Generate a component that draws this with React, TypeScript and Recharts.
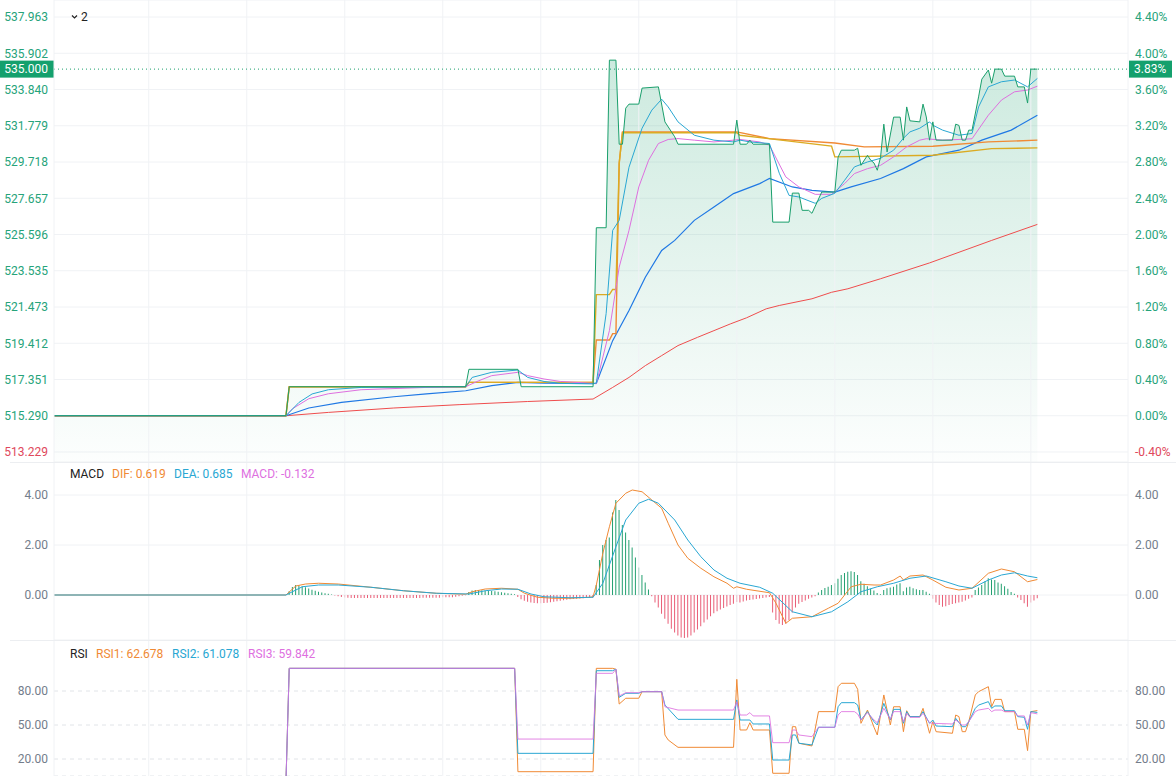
import React from "react";
import {
  ComposedChart,
  Line,
  Area,
  Bar,
  Cell,
  XAxis,
  YAxis,
  ReferenceLine,
  CartesianGrid,
} from "recharts";

// ---- axes / scales ----
const BASE_PRICE = 515.29;
const LAST_PRICE = 535.0;
const LAST_PCT = "3.83%";
const LAST_T = 301;
const X_MAX = 328.74;

const priceTicks = [
  513.229, 515.29, 517.351, 519.412, 521.473, 523.535, 525.596, 527.657, 529.718, 531.779,
  533.84, 535.902, 537.963,
];
const priceDomain: [number, number] = [512.66, 538.93];
const macdTicks = [0, 2, 4];
const macdDomain: [number, number] = [-1.8, 5.32];
const rsiTicks = [20, 50, 80];
const rsiDomain: [number, number] = [5, 125];
const timeGrid = [29, 59, 89, 119, 149, 179, 209, 239, 269, 299];

// ---- price pane: [bar index, price] ----
const closePts: [number, number][] = [
  [0, 515.29], [71, 515.29], [72, 516.94], [126, 516.94], [127, 517.93], [142, 517.93],
  [143, 516.94], [165, 516.94], [166, 525.98], [169, 525.98], [170, 535.51], [172, 535.51],
  [173, 530.73], [174, 530.73], [175, 532.78], [176, 533.01], [179, 533.01], [180, 533.92],
  [185, 533.99], [187, 532.0], [190, 531.15], [191, 530.73], [208, 530.73], [209, 532.1],
  [210, 530.73], [212, 530.73], [213, 530.96], [214, 530.73], [219, 530.73], [220, 526.3],
  [225, 526.3], [226, 527.95], [228, 527.95], [229, 526.97], [231, 526.97], [232, 526.8],
  [235, 528.01], [239, 528.01], [240, 529.99], [241, 530.39], [245, 530.39], [246, 530.5],
  [247, 529.53], [249, 530.1], [250, 529.82], [251, 529.66], [252, 529.25], [253, 529.99],
  [254, 531.87], [255, 530.29], [257, 532.27], [259, 532.27], [260, 530.96], [261, 532.85],
  [262, 532.06], [265, 532.0], [266, 533.01], [267, 532.28], [268, 530.96], [269, 532.0],
  [270, 530.96], [275, 530.96], [276, 531.87], [277, 531.8], [278, 530.96], [279, 530.96],
  [280, 531.53], [281, 531.53], [283, 533.42], [284, 534.43], [286, 534.95], [287, 534.2],
  [288, 535.0], [290, 535.0], [291, 534.6], [294, 534.6], [295, 533.99], [297, 533.99],
  [298, 533.07], [299, 535.0], [301, 535.0],
];
const maCyanPts: [number, number][] = [
  [0, 515.29], [71, 515.29], [75, 516.05], [79, 516.53], [84, 516.77], [94, 516.9],
  [126, 516.94], [128, 517.47], [134, 517.76], [142, 517.89], [145, 517.47], [150, 517.24],
  [155, 517.13], [165, 517.1], [166, 517.15], [169, 521.1], [171, 525.83], [173, 526.4],
  [176, 529.42], [180, 531.64], [183, 532.67], [186, 533.29], [188, 532.85], [191, 532.0],
  [196, 531.24], [202, 530.96], [208, 530.86], [210, 530.96], [213, 530.86], [219, 530.77],
  [222, 529.08], [225, 527.82], [228, 527.73], [233, 527.37], [235, 527.65], [239, 527.94],
  [242, 528.68], [245, 529.44], [249, 529.72], [253, 529.93], [257, 530.39], [260, 531.07],
  [262, 531.43], [265, 531.64], [268, 532.0], [269, 531.81], [272, 531.53], [277, 531.24],
  [281, 531.34], [283, 532.85], [286, 533.99], [290, 534.28], [294, 534.38], [298, 533.99],
  [301, 534.47],
];
const maPinkPts: [number, number][] = [
  [0, 515.29], [71, 515.29], [73, 515.69], [78, 516.26], [84, 516.54], [94, 516.77],
  [114, 516.9], [126, 516.94], [130, 517.28], [134, 517.57], [142, 517.76], [145, 517.57],
  [150, 517.38], [155, 517.24], [165, 517.13], [166, 517.11], [170, 520.13], [173, 523.74],
  [176, 525.83], [179, 528.3], [182, 529.82], [185, 530.77], [188, 531.0], [191, 531.05],
  [196, 530.96], [202, 530.86], [208, 530.96], [210, 531.0], [216, 530.86], [219, 530.67],
  [224, 528.87], [228, 528.3], [233, 527.88], [238, 527.88], [242, 528.49], [245, 529.06],
  [249, 529.34], [253, 529.53], [257, 530.01], [261, 530.58], [265, 530.96], [267, 531.04],
  [272, 530.96], [277, 531.0], [281, 531.04], [286, 532.38], [290, 533.24], [294, 533.71],
  [298, 533.81], [301, 534.03],
];
const maBluePts: [number, number][] = [
  [0, 515.29], [71, 515.29], [78, 515.73], [88, 516.05], [104, 516.37], [114, 516.53],
  [126, 516.71], [134, 517.0], [142, 517.19], [150, 517.15], [165, 517.13], [166, 517.13],
  [171, 519.56], [176, 521.27], [181, 523.17], [186, 524.69], [190, 525.26], [196, 526.4],
  [202, 527.16], [208, 527.92], [216, 528.49], [219, 528.78], [226, 528.3], [232, 528.11],
  [239, 528.01], [244, 528.3], [253, 528.78], [260, 529.34], [267, 530.01], [277, 530.39],
  [284, 530.96], [293, 531.53], [301, 532.38],
];
const maRedPts: [number, number][] = [
  [0, 515.29], [71, 515.29], [84, 515.48], [104, 515.73], [124, 515.92], [145, 516.1],
  [165, 516.24], [171, 516.9], [176, 517.47], [181, 518.14], [186, 518.71], [191, 519.28],
  [197, 519.75], [202, 520.13], [207, 520.51], [212, 520.86], [218, 521.37], [222, 521.56],
  [232, 521.94], [238, 522.31], [243, 522.51], [253, 523.08], [268, 523.98], [287, 525.26],
  [301, 526.17],
];
const avgOrangePts: [number, number][] = [
  [0, 515.29], [71, 515.29], [72, 516.94], [126, 516.94], [127, 517.19], [165, 517.19],
  [166, 519.6], [170, 519.6], [171, 519.96], [172, 519.96], [173, 529.65], [174, 531.43],
  [209, 531.43], [219, 531.05], [239, 530.8], [248, 530.58], [269, 530.61], [286, 530.86],
  [301, 530.96],
];
const avgGoldPts: [number, number][] = [
  [0, 515.29], [71, 515.29], [72, 516.94], [126, 516.94], [127, 517.19], [165, 517.19],
  [166, 522.18], [170, 522.18], [171, 522.47], [172, 522.47], [173, 529.65], [174, 531.38],
  [209, 531.38], [210, 531.24], [238, 530.62], [239, 530.01], [269, 530.1], [287, 530.48],
  [301, 530.52],
];

// ---- MACD pane ----
const difPts: [number, number][] = [
  [0, 0], [71, 0], [74, 0.36], [77, 0.44], [81, 0.47], [87, 0.44], [97, 0.31], [107, 0.17],
  [117, 0.07], [126, 0.03], [128, 0.13], [132, 0.24], [137, 0.27], [142, 0.23], [144, 0.07],
  [148, -0.09], [153, -0.13], [158, -0.13], [164, -0.09], [165, -0.07], [166, 0.4],
  [168, 1.67], [170, 2.73], [172, 3.67], [175, 4.07], [177, 4.2], [180, 4.13], [183, 3.8],
  [186, 3.47], [188, 2.87], [191, 2.0], [194, 1.47], [198, 1.07], [202, 0.73], [206, 0.47],
  [208, 0.27], [209, 0.33], [212, 0.23], [219, 0.09], [221, -0.33], [224, -1.13],
  [226, -0.93], [232, -0.87], [237, -0.53], [240, -0.33], [244, 0.33], [247, 0.43],
  [251, 0.4], [253, 0.4], [257, 0.6], [259, 0.76], [260, 0.6], [262, 0.76], [266, 0.8],
  [269, 0.6], [273, 0.31], [277, 0.2], [281, 0.27], [286, 0.87], [290, 1.04], [294, 0.93],
  [298, 0.53], [301, 0.62],
];
const deaPts: [number, number][] = [
  [0, 0], [71, 0], [76, 0.33], [81, 0.4], [87, 0.4], [97, 0.31], [107, 0.17], [117, 0.07],
  [127, 0.04], [132, 0.17], [137, 0.24], [142, 0.23], [146, 0.04], [150, -0.07],
  [158, -0.11], [165, -0.09], [168, 0.47], [172, 1.93], [175, 3.0], [179, 3.67], [182, 3.83],
  [185, 3.67], [190, 3.0], [194, 2.2], [198, 1.53], [202, 1.0], [206, 0.67], [210, 0.47],
  [216, 0.31], [220, 0.07], [226, -0.67], [232, -0.87], [238, -0.67], [243, -0.27],
  [247, 0.13], [252, 0.33], [257, 0.47], [262, 0.67], [267, 0.76], [273, 0.53], [277, 0.36],
  [281, 0.27], [286, 0.6], [290, 0.8], [294, 0.89], [298, 0.76], [301, 0.69],
];
const histStart = 72;
const histVals = [
  0.15, 0.32, 0.4, 0.38, 0.35, 0.31, 0.26, 0.21, 0.17, 0.13, 0.1, 0.07, 0.05, 0.02,
  -0.02, -0.05, -0.08, -0.1, -0.11, -0.12, -0.12, -0.12, -0.12, -0.12, -0.12, -0.12, -0.12,
  -0.12, -0.12, -0.12, -0.12, -0.12, -0.12, -0.12, -0.12, -0.12, -0.12, -0.12, -0.12, -0.12,
  -0.12, -0.11, -0.11, -0.11, -0.11, -0.11, -0.11, -0.09, -0.09, -0.09, -0.09, -0.07, -0.05,
  -0.03, -0.01,
  0.12, 0.18, 0.2, 0.2, 0.19, 0.18, 0.17, 0.16, 0.15, 0.13, 0.11, 0.09, 0.07, 0.05, 0.03,
  -0.08, -0.17, -0.23, -0.27, -0.3, -0.32, -0.33, -0.33, -0.32, -0.31, -0.29, -0.27, -0.25,
  -0.23, -0.21, -0.19, -0.17, -0.16, -0.15, -0.14, -0.13, -0.12, -0.11, -0.1,
  0.4, 1.4, 2.0, 2.2, 2.3, 3.3, 3.8, 3.4, 2.8, 2.5, 2.2, 1.9, 1.5, 1.1, 0.8, 0.5, 0.22,
  -0.05, -0.3, -0.5, -0.75, -0.95, -1.15, -1.35, -1.5, -1.62, -1.7, -1.72, -1.7, -1.62, -1.5,
  -1.38, -1.25, -1.1, -0.98, -0.85, -0.73, -0.65, -0.58, -0.52, -0.46, -0.4, -0.35, -0.28,
  -0.3, -0.26, -0.22, -0.2, -0.18, -0.16, -0.14, -0.12, -0.1, -0.08,
  -0.7, -1.0, -1.15, -1.2, -1.15, -1.0, -0.7, -0.5, -0.35, -0.28, -0.22, -0.15, -0.1, -0.05,
  0.1, 0.2, 0.28, 0.33, 0.4, 0.47, 0.65, 0.8, 0.88, 0.93, 0.95, 0.92, 0.8, 0.55, 0.45, 0.35,
  0.25, 0.18, 0.08, 0.03, 0.2, 0.27, 0.3, 0.33, 0.42, 0.47, 0.15, 0.3, 0.33, 0.27, 0.23, 0.2,
  0.2, 0.13, 0.05,
  -0.15, -0.3, -0.4, -0.47, -0.45, -0.4, -0.36, -0.33, -0.3, -0.27, -0.22, -0.15, -0.1,
  0.2, 0.3, 0.4, 0.55, 0.67, 0.62, 0.6, 0.5, 0.45, 0.35, 0.25, 0.12, 0.05,
  -0.1, -0.2, -0.33, -0.47, -0.3, -0.22, -0.13,
];

// ---- RSI pane ----
const rsi1Pts: [number, number][] = [
  [71, 0], [72, 100], [141, 100], [142, 8.8], [165, 8.8], [166, 100], [171, 100], [172, 99.2],
  [173, 68.5], [175, 73.6], [179, 73.6], [180, 79.4], [186, 79.4], [187, 41.2], [188, 36.8],
  [191, 30.3], [208, 30.3], [209, 90.3], [210, 45.6], [212, 45.6], [213, 52.0], [214, 45.6],
  [219, 45.6], [220, 7.4], [225, 7.4], [226, 48.5], [227, 48.5], [228, 33.9], [232, 31.5],
  [234, 61.8], [239, 61.8], [240, 83.8], [241, 86.8], [245, 86.8], [246, 81.5], [247, 51.5],
  [249, 63.2], [251, 48.0], [252, 41.2], [254, 76.5], [256, 50.0], [257, 66.1], [259, 66.1],
  [260, 44.1], [261, 62.6], [262, 57.4], [265, 57.4], [266, 64.7], [268, 42.7], [269, 52.9],
  [270, 44.1], [275, 42.7], [276, 58.8], [277, 57.4], [278, 44.1], [279, 44.1], [280, 52.9],
  [282, 76.5], [283, 79.4], [286, 83.8], [287, 66.1], [288, 72.6], [290, 72.6], [291, 61.8],
  [294, 61.8], [295, 46.2], [297, 46.2], [298, 27.4], [299, 61.8], [301, 62.7],
];
const rsi2Pts: [number, number][] = [
  [71, 0], [72, 100], [141, 100], [142, 25.0], [165, 25.0], [166, 97.9], [171, 97.9],
  [172, 99.2], [173, 74.4], [175, 78.0], [179, 78.0], [180, 79.4], [186, 79.4], [187, 67.6],
  [191, 55.0], [208, 55.0], [209, 72.1], [210, 54.4], [213, 54.4], [214, 50.9], [219, 50.9],
  [220, 19.1], [225, 19.1], [226, 41.2], [227, 41.2], [228, 33.9], [232, 32.4], [234, 48.0],
  [239, 48.0], [240, 66.1], [241, 69.7], [245, 69.7], [246, 67.6], [247, 54.4], [249, 61.8],
  [251, 52.9], [252, 50.0], [254, 69.1], [256, 54.4], [257, 63.8], [259, 63.8], [260, 51.5],
  [261, 61.8], [262, 57.4], [265, 57.4], [266, 61.8], [268, 51.5], [269, 54.4], [270, 49.1],
  [275, 48.5], [276, 55.9], [278, 48.5], [279, 48.5], [280, 52.9], [282, 64.7], [283, 67.6],
  [286, 70.6], [287, 64.7], [288, 66.8], [290, 66.8], [291, 62.6], [294, 62.6], [295, 57.4],
  [297, 56.8], [298, 46.2], [299, 61.8], [301, 61.1],
];
const rsi3Pts: [number, number][] = [
  [71, 0], [72, 100], [141, 100], [142, 37.6], [165, 37.6], [166, 95.6], [171, 95.6],
  [172, 99.2], [173, 75.6], [175, 78.5], [179, 78.5], [180, 79.4], [186, 79.4], [187, 66.1],
  [191, 63.2], [208, 63.2], [209, 70.6], [210, 58.8], [212, 58.8], [213, 60.9], [214, 58.0],
  [219, 58.0], [220, 34.4], [225, 34.4], [226, 45.6], [227, 45.6], [228, 41.2], [232, 39.7],
  [234, 48.0], [239, 48.0], [240, 58.8], [241, 61.8], [245, 61.8], [246, 59.7], [247, 54.4],
  [249, 60.9], [251, 54.4], [252, 52.0], [254, 64.7], [256, 55.0], [257, 61.8], [259, 61.8],
  [260, 52.9], [261, 60.3], [262, 56.8], [265, 56.8], [266, 60.3], [268, 52.0], [269, 51.5],
  [275, 50.9], [276, 54.4], [278, 50.0], [279, 50.0], [280, 52.9], [282, 61.8], [283, 63.2],
  [286, 64.7], [287, 61.8], [288, 63.2], [290, 63.2], [291, 61.8], [294, 61.8], [295, 58.0],
  [297, 58.0], [298, 50.0], [299, 60.9], [301, 59.8],
];

// ---- styles ----
const FONT = "Roboto, 'Noto Sans', Arial, sans-serif";
const GREEN = "#1a9f6c";
const TICK_GREEN = "#26a37a";
const TICK_RED = "#e0485c";
const C_CYAN = "#29a7d3";
const C_PINK = "#de70df";
const C_BLUE = "#1f78e4";
const C_RED = "#ef4d4d";
const C_ORANGE = "#f08a35";
const C_GOLD = "#dbab22";
const HIST_UP = "#23a070";
const HIST_DOWN = "#e95d76";
const GRID = "#f0f2f5";
const AXIS_TXT = "#737d8b";

// one row per bar, sparse series are joined with connectNulls
const rows: Record<string, number>[] = Array.from({ length: LAST_T + 1 }, (_, t) => ({ t }));
const put = (key: string, pts: [number, number][]) => {
  pts.forEach(([t, v]) => {
    rows[t][key] = v;
  });
};
put("close", closePts);
put("maCyan", maCyanPts);
put("maPink", maPinkPts);
put("maBlue", maBluePts);
put("maRed", maRedPts);
put("avgOrange", avgOrangePts);
put("avgGold", avgGoldPts);
put("dif", difPts);
put("dea", deaPts);
put("rsi1", rsi1Pts);
put("rsi2", rsi2Pts);
put("rsi3", rsi3Pts);
histVals.forEach((v, i) => {
  rows[histStart + i].hist = v;
});

const margin = { top: 0, right: 0, bottom: 0, left: 0 };

const priceTick = (side: "left" | "right") => (props: any) => {
  const { x, y, payload } = props;
  const v = payload.value as number;
  const color = v < BASE_PRICE - 1e-6 ? TICK_RED : TICK_GREEN;
  const label = side === "left" ? v.toFixed(3) : `${((v / BASE_PRICE - 1) * 100).toFixed(2)}%`;
  return (
    <text x={x} y={y} dy="0.355em" textAnchor={side === "left" ? "end" : "start"} fill={color} fontSize={12} fontFamily={FONT}>
      {label}
    </text>
  );
};

const grayTick = (side: "left" | "right") => (props: any) => {
  const { x, y, payload } = props;
  return (
    <text x={x} y={y} dy="0.355em" textAnchor={side === "left" ? "end" : "start"} fill={AXIS_TXT} fontSize={12} fontFamily={FONT}>
      {(payload.value as number).toFixed(2)}
    </text>
  );
};

const lastPriceLabel = (props: any) => {
  const vb = props.viewBox || {};
  const x = vb.x ?? 54;
  const y = vb.y ?? 0;
  const w = vb.width ?? 0;
  return (
    <g>
      <rect x={x - 54} y={y - 8.5} width={54} height={17} fill="#14a06d" />
      <text x={x - 6} y={y} dy="0.355em" textAnchor="end" fill="#fff" fontSize={12} fontFamily={FONT}>
        {LAST_PRICE.toFixed(3)}
      </text>
      <rect x={x + w + 1} y={y - 8.5} width={43} height={17} fill="#14a06d" />
      <text x={x + w + 6} y={y} dy="0.355em" textAnchor="start" fill="#fff" fontSize={12} fontFamily={FONT}>
        {LAST_PCT}
      </text>
    </g>
  );
};

const leftAxisProps = {
  orientation: "left" as const,
  width: 54,
  allowDataOverflow: true,
  axisLine: { stroke: GRID },
  tickLine: false,
  tickSize: 6,
  tickMargin: 0,
  interval: 0 as const,
};
const rightAxisProps = {
  orientation: "right" as const,
  width: 48,
  allowDataOverflow: true,
  axisLine: { stroke: GRID },
  tickLine: false,
  tickSize: 6,
  tickMargin: 1,
  interval: 0 as const,
};

const xAxis = <XAxis type="number" dataKey="t" domain={[0, X_MAX]} hide allowDataOverflow />;

const lineProps = {
  type: "linear" as const,
  dot: false,
  activeDot: false,
  connectNulls: true,
  isAnimationActive: false,
  strokeWidth: 1,
};

const legendItem = (left: number, top: number, color: string, text: string) => (
  <span
    key={text}
    style={{ position: "absolute", left, top, color, fontSize: 12, lineHeight: "16px", whiteSpace: "nowrap" }}
  >
    {text}
  </span>
);

export default function App() {
  return (
    <div style={{ position: "relative", width: 1176, height: 776, fontFamily: FONT, background: "#fff", overflow: "hidden" }}>
      <style>{"body{margin:0;}"}</style>

      {/* price pane */}
      <div style={{ position: "absolute", left: 0, top: 0 }}>
        <ComposedChart width={1176} height={462} data={rows} margin={margin}>
          <defs>
            <linearGradient id="closeFill" x1="0" y1="0" x2="0" y2="1">
              <stop offset="0%" stopColor={GREEN} stopOpacity={0.22} />
              <stop offset="100%" stopColor={GREEN} stopOpacity={0.01} />
            </linearGradient>
          </defs>
          <CartesianGrid yAxisId="p" vertical={false} stroke={GRID} />
          {xAxis}
          <YAxis yAxisId="p" {...leftAxisProps} domain={priceDomain} ticks={priceTicks} tick={priceTick("left")} />
          <YAxis yAxisId="pr" {...rightAxisProps} domain={priceDomain} ticks={priceTicks} tick={priceTick("right")} />
          {timeGrid.map((t) => (
            <ReferenceLine key={t} yAxisId="p" x={t} stroke={GRID} />
          ))}
          <Area
            yAxisId="p"
            dataKey="close"
            type="linear"
            stroke="none"
            fill="url(#closeFill)"
            fillOpacity={1}
            baseValue="dataMin"
            connectNulls
            isAnimationActive={false}
            activeDot={false}
          />
          <Line yAxisId="pr" dataKey="maRed" stroke={C_RED} {...lineProps} />
          <Line yAxisId="p" dataKey="maBlue" stroke={C_BLUE} {...lineProps} strokeWidth={1.2} />
          <Line yAxisId="p" dataKey="avgOrange" stroke={C_ORANGE} {...lineProps} strokeWidth={1.4} />
          <Line yAxisId="p" dataKey="avgGold" stroke={C_GOLD} {...lineProps} strokeWidth={1.4} />
          <Line yAxisId="p" dataKey="maPink" stroke={C_PINK} {...lineProps} />
          <Line yAxisId="p" dataKey="maCyan" stroke={C_CYAN} {...lineProps} />
          <Line yAxisId="p" dataKey="close" stroke={GREEN} {...lineProps} />
          <ReferenceLine yAxisId="p" y={LAST_PRICE} stroke={GREEN} strokeDasharray="1 3" label={lastPriceLabel} />
        </ComposedChart>
      </div>

      {/* MACD pane */}
      <div style={{ position: "absolute", left: 0, top: 462 }}>
        <ComposedChart width={1176} height={178} data={rows} margin={margin}>
          <CartesianGrid yAxisId="m" vertical={false} stroke={GRID} />
          {xAxis}
          <YAxis yAxisId="m" {...leftAxisProps} domain={macdDomain} ticks={macdTicks} tick={grayTick("left")} />
          <YAxis yAxisId="mr" {...rightAxisProps} domain={macdDomain} ticks={macdTicks} tick={grayTick("right")} />
          {timeGrid.map((t) => (
            <ReferenceLine key={t} yAxisId="m" x={t} stroke={GRID} />
          ))}
          <Bar yAxisId="m" dataKey="hist" barSize={1} isAnimationActive={false}>
            {rows.map((r, i) => (
              <Cell key={i} fill={(r.hist ?? 0) >= 0 ? HIST_UP : HIST_DOWN} />
            ))}
          </Bar>
          <Line yAxisId="mr" dataKey="dif" stroke={C_ORANGE} {...lineProps} />
          <Line yAxisId="m" dataKey="dea" stroke={C_CYAN} {...lineProps} />
        </ComposedChart>
      </div>

      {/* RSI pane */}
      <div style={{ position: "absolute", left: 0, top: 640 }}>
        <ComposedChart width={1176} height={136} data={rows} margin={margin}>
          <CartesianGrid yAxisId="r" vertical={false} stroke="#e1e4e8" strokeDasharray="4 4" />
          {xAxis}
          <YAxis yAxisId="r" {...leftAxisProps} domain={rsiDomain} ticks={rsiTicks} tick={grayTick("left")} />
          <YAxis yAxisId="rr" {...rightAxisProps} domain={rsiDomain} ticks={rsiTicks} tick={grayTick("right")} />
          {timeGrid.map((t) => (
            <ReferenceLine key={t} yAxisId="r" x={t} stroke={GRID} />
          ))}
          <Line yAxisId="r" dataKey="rsi1" stroke={C_ORANGE} {...lineProps} />
          <Line yAxisId="rr" dataKey="rsi2" stroke={C_CYAN} {...lineProps} />
          <Line yAxisId="r" dataKey="rsi3" stroke={C_PINK} {...lineProps} strokeOpacity={0.85} />
        </ComposedChart>
      </div>

      {/* pane separators */}
      <div style={{ position: "absolute", left: 10, top: 462, width: 1166, height: 1, background: "#eceef1" }} />
      <div style={{ position: "absolute", left: 10, top: 640, width: 1166, height: 1, background: "#eceef1" }} />

      {/* top-left symbol toggle */}
      <svg style={{ position: "absolute", left: 70, top: 11 }} width={10} height={12}>
        <path d="M2 4.5 L4.5 7 L7 4.5" stroke="#222" strokeWidth={1.2} fill="none" />
      </svg>
      {legendItem(81, 9, "#222", "2")}

      {/* MACD legend */}
      {legendItem(70, 466, "#222", "MACD")}
      {legendItem(112, 466, C_ORANGE, "DIF: 0.619")}
      {legendItem(174, 466, C_CYAN, "DEA: 0.685")}
      {legendItem(241, 466, C_PINK, "MACD: -0.132")}

      {/* RSI legend */}
      {legendItem(70, 646, "#222", "RSI")}
      {legendItem(96, 646, C_ORANGE, "RSI1: 62.678")}
      {legendItem(172, 646, C_CYAN, "RSI2: 61.078")}
      {legendItem(248, 646, C_PINK, "RSI3: 59.842")}
    </div>
  );
}
